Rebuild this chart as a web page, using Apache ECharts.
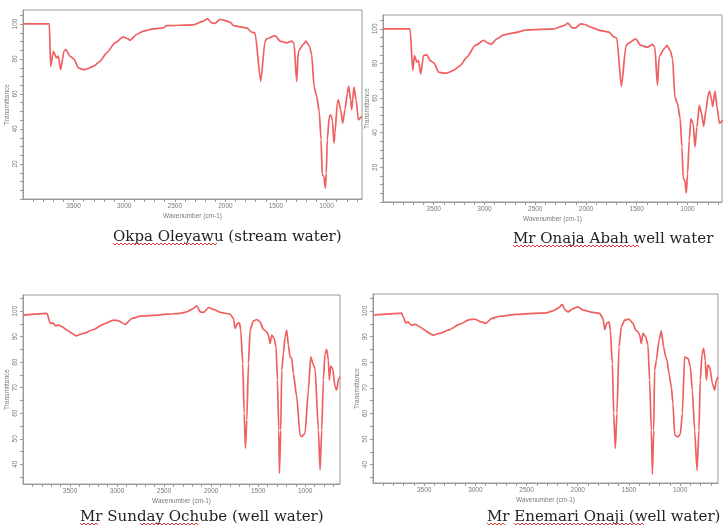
<!DOCTYPE html>
<html>
<head>
<meta charset="utf-8">
<script src="https://cdn.jsdelivr.net/npm/echarts@6/dist/echarts.min.js"></script>
<style>
  html, body { margin: 0; padding: 0; background: #ffffff; }
  #chart { width: 726px; height: 526px; }
</style>
</head>
<body>
<div id="chart"></div>
<script>
// FTIR spectra, [wavenumber (cm-1), transmittance (%)]
const okpaStream = [[4000,100.1],[3740,100.1],[3727,75.8],[3700,84.4],[3667,80.6],[3651,81.6],[3628,73.9],[3595,84.4],[3575,85.4],[3536,81.6],[3496,80.0],[3453,74.9],[3404,73.9],[3371,74.3],[3305,75.8],[3239,78.7],[3173,83.5],[3091,89.2],[3009,92.6],[2959,91.5],[2943,90.7],[2877,94.0],[2811,95.9],[2712,97.2],[2613,97.8],[2580,99.1],[2317,99.5],[2218,101.6],[2178,103.1],[2136,100.7],[2103,100.3],[2053,102.6],[2020,102.2],[1954,101.1],[1921,99.1],[1856,98.4],[1790,97.8],[1740,95.3],[1707,94.9],[1651,67.2],[1608,90.2],[1592,91.5],[1510,93.4],[1460,90.2],[1394,89.2],[1345,90.2],[1322,89.2],[1296,67.2],[1279,84.4],[1230,88.3],[1203,90.2],[1170,87.3],[1147,82.5],[1124,64.4],[1098,58.6],[1072,49.9],[1055,33.8],[1042,13.7],[1026,12.8],[1012,6.1],[1003,14.7],[993,33.8],[973,47.2],[960,48.1],[943,45.3],[927,31.9],[917,37.6],[894,54.8],[884,56.7],[861,51.0],[841,43.3],[818,51.0],[795,60.5],[782,64.4],[762,56.7],[752,51.0],[742,56.7],[729,64.0],[709,56.7],[686,45.3],[653,47.2]];

const onajaWell = [[4000,100.0],[3733,100.0],[3707,76.0],[3690,84.6],[3667,80.8],[3651,81.7],[3628,74.0],[3601,84.6],[3568,85.0],[3536,81.7],[3496,80.2],[3453,75.0],[3404,74.4],[3371,74.4],[3305,76.0],[3239,78.8],[3173,83.7],[3091,90.4],[3009,93.3],[2959,91.7],[2936,91.0],[2877,94.2],[2811,96.5],[2712,97.7],[2580,99.4],[2317,100.0],[2218,101.9],[2178,103.3],[2136,100.6],[2103,100.6],[2053,102.9],[2014,102.5],[1954,101.0],[1856,99.0],[1773,98.1],[1724,95.2],[1697,94.8],[1651,66.7],[1608,89.4],[1592,91.3],[1510,94.2],[1460,90.4],[1394,89.4],[1345,91.0],[1322,89.4],[1296,67.3],[1279,84.0],[1230,88.5],[1203,90.4],[1170,87.5],[1147,82.7],[1124,60.6],[1098,56.7],[1072,48.1],[1055,31.7],[1042,13.5],[1026,12.5],[1012,5.2],[999,16.3],[983,35.6],[966,48.1],[943,45.2],[927,31.7],[907,43.3],[884,55.8],[861,51.0],[841,43.7],[818,52.9],[795,62.5],[782,64.0],[762,58.7],[752,55.2],[729,64.0],[709,54.8],[686,45.6],[653,47.1]];

const sundayWell = [[4000,98.4],[3745,99.1],[3710,95.2],[3681,95.4],[3657,94.3],[3621,94.5],[3586,93.9],[3533,92.6],[3480,91.3],[3434,90.3],[3356,91.3],[3250,92.8],[3143,94.9],[3037,96.5],[2984,96.2],[2913,94.8],[2842,97.1],[2754,98.0],[2577,98.4],[2471,98.8],[2329,99.1],[2258,99.7],[2205,100.7],[2152,102.1],[2117,99.7],[2081,99.5],[2028,101.4],[1975,100.7],[1904,99.5],[1798,98.8],[1763,97.1],[1745,93.2],[1720,95.2],[1699,95.4],[1685,92.6],[1664,79.5],[1649,60.0],[1635,46.3],[1621,57.3],[1603,79.5],[1586,92.6],[1550,96.2],[1515,96.7],[1480,95.8],[1444,92.8],[1409,91.9],[1391,90.6],[1373,87.3],[1356,90.6],[1331,89.3],[1310,86.0],[1295,73.0],[1281,53.4],[1274,36.5],[1260,53.4],[1249,76.9],[1232,83.4],[1214,90.0],[1196,92.6],[1179,86.7],[1161,82.1],[1143,81.5],[1126,75.6],[1090,66.5],[1055,51.5],[1037,50.8],[1002,52.1],[966,69.1],[941,82.1],[913,78.9],[895,77.6],[860,53.4],[842,37.8],[824,53.4],[807,73.0],[789,83.4],[771,85.0],[754,80.8],[743,73.0],[729,78.5],[708,77.6],[683,70.4],[665,69.1],[648,73.0],[630,74.3]];

const enemariWell = [[4000,98.4],[3740,99.1],[3723,99.3],[3707,98.0],[3681,95.4],[3658,95.8],[3626,94.5],[3583,94.8],[3544,93.9],[3495,92.6],[3446,91.3],[3414,90.6],[3349,91.3],[3251,92.8],[3153,94.9],[3056,96.7],[3007,96.9],[2942,95.8],[2899,95.2],[2844,97.1],[2763,98.0],[2600,98.7],[2437,99.1],[2307,99.3],[2242,100.1],[2183,101.4],[2151,102.7],[2128,100.7],[2095,99.7],[2046,101.0],[1998,101.7],[1949,100.4],[1851,99.5],[1786,99.1],[1753,97.1],[1737,92.8],[1714,95.4],[1695,95.8],[1682,92.6],[1662,79.5],[1649,60.0],[1633,46.3],[1617,60.0],[1597,86.0],[1574,93.9],[1542,96.5],[1499,96.9],[1460,95.2],[1434,92.6],[1411,91.9],[1395,90.6],[1379,87.3],[1363,91.3],[1337,90.0],[1314,86.7],[1298,73.0],[1281,53.4],[1271,36.2],[1258,53.4],[1249,76.9],[1232,80.8],[1206,88.7],[1184,92.3],[1161,86.0],[1141,82.1],[1128,80.8],[1109,75.6],[1086,70.4],[1070,63.9],[1053,51.5],[1021,50.8],[998,51.9],[978,60.0],[956,82.1],[923,81.5],[900,78.2],[881,69.1],[858,53.4],[835,37.8],[816,53.4],[803,73.0],[786,83.4],[770,85.4],[754,80.8],[744,73.0],[728,78.9],[711,78.2],[685,71.7],[663,69.1],[646,73.0],[630,74.3]];

const sampleNames = ['Okpa Oleyawu (stream water)', 'Mr Onaja Abah well water', 'Mr Sunday Ochube (well water)', 'Mr Enemari Onaji (well water)'];
const wavenumberLabels = [1000, 1500, 2000, 2500, 3000, 3500];
const transmittanceLabelsUpper = [20, 40, 60, 80, 100];
const transmittanceLabelsLower = [40, 50, 60, 70, 80, 90, 100];

const spectra = [okpaStream, onajaWell, sundayWell, enemariWell];

// panel frames and axis extents
const panels = [
  { left: 23,  top: 10,  width: 339, height: 189, xMin: 650, yMin: 0,  yMax: 108,   yLabels: transmittanceLabelsUpper },
  { left: 383, top: 15,  width: 339, height: 187, xMin: 660, yMin: 0,  yMax: 108,   yLabels: transmittanceLabelsUpper },
  { left: 23,  top: 295, width: 317, height: 189, xMin: 630, yMin: 32.3, yMax: 106.3, yLabels: transmittanceLabelsLower },
  { left: 373, top: 294, width: 345, height: 189, xMin: 630, yMin: 32.8, yMax: 106.7, yLabels: transmittanceLabelsLower }
];

function steps(from, to, step) {
  const out = [];
  for (let v = from; v <= to + 1e-9; v += step) out.push(v);
  return out;
}

const axisGrey = '#9a9a9a';
const labelGrey = '#7a7a7a';
const lineRed = '#ef6060';
const plain = v => String(Math.round(v));

const grid = [], xAxis = [], yAxis = [], series = [];
panels.forEach((p, i) => {
  grid.push({
    left: p.left, top: p.top, width: p.width, height: p.height,
    show: true, borderColor: axisGrey, borderWidth: 1, backgroundColor: '#fff'
  });
  xAxis.push({
    type: 'value', gridIndex: i, inverse: true, min: p.xMin, max: 4000,
    name: 'Wavenumber (cm-1)', nameLocation: 'middle', nameGap: 14,
    nameTextStyle: { fontSize: 6.5, color: labelGrey, fontFamily: 'Arial, Liberation Sans' },
    axisLine: { show: true, lineStyle: { color: axisGrey, width: 1 } },
    axisTick: { show: true, inside: false, length: 3, lineStyle: { color: axisGrey },
      customValues: steps(Math.ceil(p.xMin / 100) * 100, 3900, 100) },
    axisLabel: { show: true, fontSize: 6.5, color: labelGrey, margin: 4, formatter: plain,
      customValues: wavenumberLabels, fontFamily: 'Arial, Liberation Sans' },
    splitLine: { show: false }
  });
  yAxis.push({
    type: 'value', gridIndex: i, min: p.yMin, max: p.yMax,
    name: 'Transmittance', nameLocation: 'middle', nameGap: 10, nameRotate: 90,
    nameTextStyle: { fontSize: 6.5, color: labelGrey, fontFamily: 'Arial, Liberation Sans' },
    axisLine: { show: true, lineStyle: { color: axisGrey, width: 1 } },
    axisTick: { show: true, inside: false, length: 3, lineStyle: { color: axisGrey },
      customValues: steps(Math.ceil(p.yMin / 5) * 5, Math.floor(p.yMax / 5) * 5, 5) },
    axisLabel: { show: true, fontSize: 6.5, color: labelGrey, margin: 4, rotate: 90, formatter: plain,
      customValues: p.yLabels, fontFamily: 'Arial, Liberation Sans' },
    splitLine: { show: false }
  });
  series.push({
    type: 'line', xAxisIndex: i, yAxisIndex: i, data: spectra[i],
    showSymbol: false, smooth: 0.2, smoothMonotone: 'x',
    lineStyle: { color: lineRed, width: 1.7 }, silent: true, animation: false
  });
});

// wavy spell-check style underline beneath a caption word
function squiggle(x1, x2, y) {
  const pts = [];
  let k = 0;
  for (let x = x1; x <= x2; x += 2, k++) pts.push([x, y + (k % 2 ? 1 : -1)]);
  return pts;
}

const captionFont = '15px "DejaVu Serif", "Liberation Serif", serif';
const captions = [
  { text: sampleNames[0], x: 113, y: 237, marks: [[113, 218]], markY: 244 },
  { text: sampleNames[1], x: 513, y: 239, marks: [[513, 640]], markY: 246 },
  { text: sampleNames[2], x: 80,  y: 517, marks: [[80, 98], [140, 198]], markY: 524 },
  { text: sampleNames[3], x: 487, y: 517, marks: [[487, 505], [514, 644]], markY: 524 }
];

const graphic = [];
captions.forEach(c => {
  graphic.push({
    type: 'text', x: c.x, y: c.y, silent: true,
    style: { text: c.text, font: captionFont, fill: '#222', align: 'left', verticalAlign: 'middle' }
  });
  c.marks.forEach(m => graphic.push({
    type: 'polyline', silent: true,
    shape: { points: squiggle(m[0], m[1], c.markY) },
    style: { stroke: '#d83a3a', lineWidth: 1, fill: null }
  }));
});

const chart = echarts.init(document.getElementById('chart'), null, { renderer: 'canvas' });
chart.setOption({
  animation: false,
  backgroundColor: '#ffffff',
  grid, xAxis, yAxis, series, graphic
});
</script>
</body>
</html>
